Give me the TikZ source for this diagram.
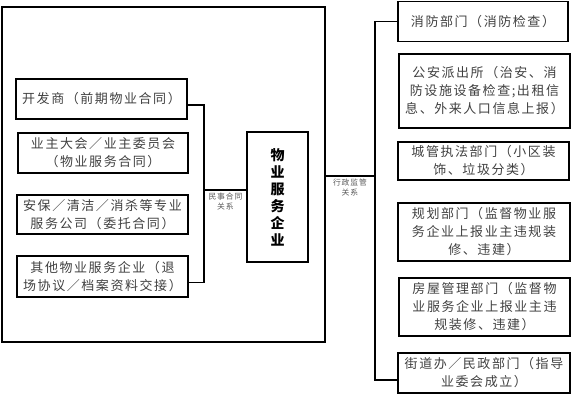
\documentclass[tikz,border=0pt]{standalone}
\usepackage{fontspec}
\newfontfamily\cjk[LetterSpace=12]{Noto Sans CJK SC}
\newfontfamily\cjkplain{Noto Sans CJK SC}
\usetikzlibrary{calc}
\begin{document}
\begin{tikzpicture}[x=1pt,y=-1pt,
  box/.style={draw,line width=1.6pt,inner sep=0pt,align=center,font=\cjk\fontsize{13}{18}\selectfont,text=black!75},
  frame/.style={draw,line width=1.8pt,inner sep=0pt},
  conn/.style={line width=1.2pt},
  lbl/.style={font=\cjk\fontsize{7.8}{10}\selectfont,align=center,inner sep=0pt,text=black!65}]
\useasboundingbox (0,0) rectangle (577,400);
% outer frame
\node[frame,minimum width=323pt,minimum height=335pt] (outer) at (163.5,174.5) {};
% left boxes
\node[box,minimum width=171pt,minimum height=40pt] (L1) at (101.5,99) {开发商（前期物业合同）};
\node[box,minimum width=170pt,minimum height=40pt] (L2) at (103,153) {业主大会／业主委员会\\（物业服务合同）};
\node[box,minimum width=171pt,minimum height=39pt] (L3) at (102.5,214.5) {安保／清洁／消杀等专业\\服务公司（委托合同）};
\node[box,minimum width=171pt,minimum height=41pt] (L4) at (102.5,276.5) {其他物业服务企业（退\\场协议／档案资料交接）};
% central
\node[box,minimum width=61pt,minimum height=130pt,font=\cjkplain\bfseries\fontsize{14}{17}\selectfont,text=black] (C) at (277.5,197) {物\\业\\服\\务\\企\\业};
% left connectors
\coordinate (jl) at (204,190);
\draw[conn] ([yshift=-6pt]L1.east) -| (jl);
\draw[conn] ([yshift=-6pt]L4.east) -| (jl);
\draw[conn] (jl) -- (jl -| C.west);
\node[lbl] (lblL) at (225.5,202) {民事合同\\关系};
% right boxes
\node[box,minimum width=170pt,minimum height=40pt] (R1) at (483,21.5) {消防部门（消防检查）};
\node[box,minimum width=171pt,minimum height=74pt] (R2) at (484.5,91) {公安派出所（治安、消\\防设施设备检查;出租信\\息、外来人口信息上报）};
\node[box,minimum width=171pt,minimum height=38pt] (R3) at (483.5,161) {城管执法部门（小区装\\饰、垃圾分类）};
\node[box,minimum width=172pt,minimum height=58pt] (R4) at (484,232) {规划部门（监督物业服\\务企业上报业主违规装\\修、违建）};
\node[box,minimum width=171pt,minimum height=58pt] (R5) at (484.5,307) {房屋管理部门（监督物\\业服务企业上报业主违\\规装修、违建）};
\node[box,minimum width=172pt,minimum height=40pt] (R6) at (484,373) {街道办／民政部门（指导\\业委会成立）};
% right connectors
\coordinate (jr) at (375,176);
\draw[conn] (jr -| outer.east) -- (jr);
\draw[conn] (R1.west) -| (jr);
\draw[conn] ([yshift=-7pt]R6.west) -| (jr);
\node[lbl] (lblR) at (350,188) {行政监管\\关系};
\end{tikzpicture}
\end{document}
